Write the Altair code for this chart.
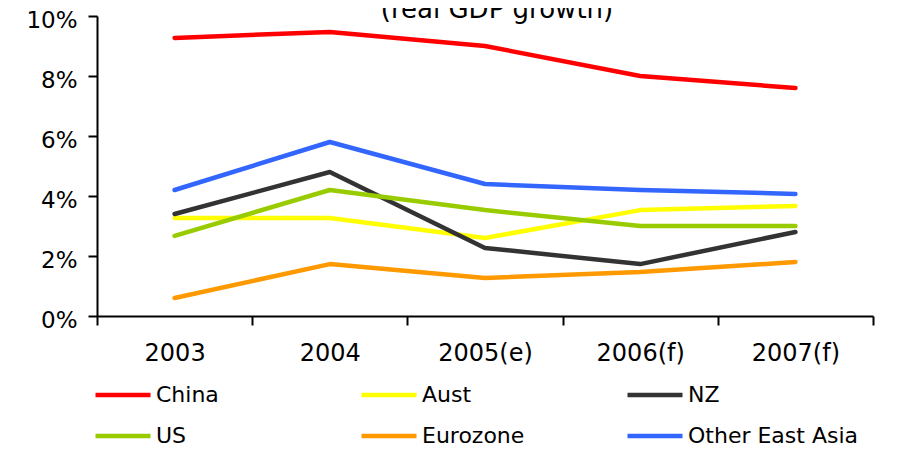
import altair as alt
import pandas as pd

years = ["2003", "2004", "2005(e)", "2006(f)", "2007(f)"]
series = ["China", "Aust", "NZ", "US", "Eurozone", "Other East Asia"]
china = [9.27, 9.47, 9.0, 8.0, 7.6]
aust = [3.27, 3.27, 2.6, 3.53, 3.67]
nz = [3.4, 4.8, 2.27, 1.73, 2.8]
us = [2.67, 4.2, 3.53, 3.0, 3.0]
eurozone = [0.6, 1.73, 1.27, 1.47, 1.8]
other_east_asia = [4.2, 5.8, 4.4, 4.2, 4.07]
colors = ["#FF0000", "#FFFF00", "#333333", "#99CC00", "#FF9900", "#3366FF"]
y_ticks = [0, 2, 4, 6, 8, 10]
title_text = "(real GDP growth)"

values = [china, aust, nz, us, eurozone, other_east_asia]
rows = []
for name, vals in zip(series, values):
    for yr, v in zip(years, vals):
        rows.append({"series": name, "year": yr, "value": v})
df = pd.DataFrame(rows)

FONT = "DejaVu Sans"

lines = alt.Chart(df).mark_line(strokeWidth=4.5, strokeCap="round", strokeJoin="round").encode(
    x=alt.X(
        "year:N",
        sort=years,
        scale=alt.Scale(type="band", paddingInner=0, paddingOuter=0),
        axis=alt.Axis(
            title=None, tickBand="extent", labelAngle=0, labelPadding=16,
            tickSize=9, labelFontSize=24,
        ),
    ),
    y=alt.Y(
        "value:Q",
        scale=alt.Scale(domain=[0, 10], nice=False),
        axis=alt.Axis(
            title=None, values=y_ticks, labelExpr="datum.value + '%'", grid=False,
            tickSize=9, labelPadding=11, labelFontSize=23, labelOffset=4,
        ),
    ),
    color=alt.Color(
        "series:N",
        sort=series,
        scale=alt.Scale(domain=series, range=colors),
        legend=alt.Legend(
            title=None, orient="none", legendX=-4, legendY=349, columns=3,
            direction="horizontal",
            symbolType="stroke", symbolSize=3025, symbolStrokeWidth=4.5,
            labelFontSize=22, labelOffset=3, gridAlign="all", labelLimit=400,
            columnPadding=25, rowPadding=-11, labelColor="black",
            labelFont=FONT,
        ),
    ),
    order=alt.Order("series:N"),
)

title = alt.Chart(pd.DataFrame({"t": [title_text]})).mark_text(
    fontSize=26, font=FONT, baseline="alphabetic", align="center", color="black"
).encode(text="t:N", x=alt.value(400), y=alt.value(2))

chart = alt.layer(lines, title).properties(
    width=776, height=300,
    autosize=alt.AutoSizeParams(type="none"),
    padding={"left": 89, "top": 8, "right": 10, "bottom": 136},
).configure(font=FONT).configure_view(stroke=None).configure_axis(
    domainColor="black", domainWidth=2, tickColor="black", tickWidth=2,
    labelColor="black", labelFont=FONT,
).configure_legend(labelFont=FONT)

chart.save("out.html", embed_options={"renderer": "svg", "actions": False})
